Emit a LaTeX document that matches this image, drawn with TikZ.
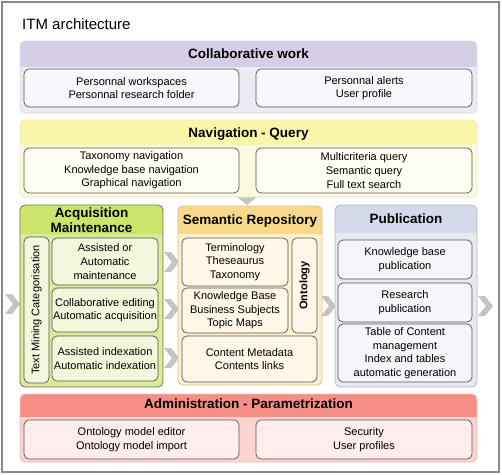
\documentclass[tikz,border=0pt]{standalone}
\usepackage{fontspec}
\setmainfont{Liberation Sans}
\definecolor{framegray}{HTML}{8A8A8A}
\definecolor{chevgray}{HTML}{C4C4C4}
\definecolor{boxline}{HTML}{555555}
\definecolor{collabH}{HTML}{D6CEE6}
\definecolor{collabB}{HTML}{ECEAF4}
\definecolor{collabI}{HTML}{F6F6FB}
\definecolor{collabL}{HTML}{DCDAE6}
\definecolor{navH}{HTML}{F9F6AA}
\definecolor{navB}{HTML}{FBFAE0}
\definecolor{navI}{HTML}{FFFEF3}
\definecolor{navL}{HTML}{ECE9C0}
\definecolor{acqH}{HTML}{CCE46C}
\definecolor{acqB}{HTML}{D9EB9A}
\definecolor{acqI}{HTML}{F2F8DC}
\definecolor{acqL}{HTML}{6E7450}
\definecolor{semH}{HTML}{F9DA8C}
\definecolor{semB}{HTML}{FDF0CD}
\definecolor{semI}{HTML}{FFF8E8}
\definecolor{semL}{HTML}{D9C28A}
\definecolor{pubH}{HTML}{D4DAEA}
\definecolor{pubB}{HTML}{E6E9F1}
\definecolor{pubI}{HTML}{F5F6FA}
\definecolor{pubL}{HTML}{B8BCC8}
\definecolor{admH}{HTML}{F58E84}
\definecolor{admB}{HTML}{FCD3D0}
\definecolor{admI}{HTML}{FDEDEC}
\definecolor{admL}{HTML}{F0C0BC}
\newcommand\itmpanel[8]{%
  \fill[#7, rounded corners=5pt] (#1,#2) rectangle (#3,#4);
  \begin{scope}
    \clip[rounded corners=5pt] (#1,#2) rectangle (#3,#4);
    \fill[#6] (#1,#2) rectangle (#3,#5);
  \end{scope}
  \draw[#8, line width=0.8pt, rounded corners=5pt] (#1,#2) rectangle (#3,#4);}
\newcommand\itmchevR[2]{%
  \fill[chevgray] (#1,#2-10) -- ++(7,0) -- ++(8,10) -- ++(-8,10) -- ++(-7,0) -- ++(8,-10) -- cycle;}
\newcommand\itmchevD[2]{%
  \fill[chevgray] (#1-10,#2) -- ++(0,7) -- ++(10,8) -- ++(10,-8) -- ++(0,-7) -- ++(-10,8) -- cycle;}
\begin{document}
\begin{tikzpicture}[x=1pt,y=-1pt,
  txt/.style={font=\fontsize{11}{13.6}\selectfont, align=center, text=black},
  ibox/.style={draw=boxline, line width=0.7pt, rounded corners=5pt, inner sep=0pt, txt},
  hdr/.style={font=\fontsize{13.5}{15}\selectfont\bfseries, align=center, inner sep=0pt}]
\useasboundingbox (0,0) rectangle (502,474);
\draw[framegray, line width=1.5pt, fill=white] (2,2) rectangle (499,472);
\node[anchor=base west, font=\fontsize{15}{18}\selectfont, inner sep=0pt] (title) at (22,29) {ITM architecture};

% chevrons (behind panels)
\itmchevR{5}{304}
\itmchevR{164}{262}
\itmchevR{164}{309}
\itmchevR{164}{358}
\itmchevR{321}{306}
\itmchevR{478}{306}
\itmchevD{247}{190}

% Collaborative work
\itmpanel{20}{41}{477}{113}{67}{collabH}{collabB}{collabL}
\node[hdr, anchor=base] (collabh) at (248.5,58.5) {Collaborative work};
\node[ibox, fill=collabI, minimum width=215pt, minimum height=38pt] (cwl) at (131.5,88) {Personnal workspaces\\Personnal research folder};
\node[ibox, fill=collabI, minimum width=216pt, minimum height=38pt] (cwr) at (364,88) {Personnal alerts\\User profile};

% Navigation - Query
\itmpanel{20}{120}{477}{197}{145}{navH}{navB}{navL}
\node[hdr, anchor=base] (navh) at (248.5,137.5) {Navigation - Query};
\node[ibox, fill=navI, minimum width=215pt, minimum height=45pt] (nql) at (131.5,170.5) {Taxonomy navigation\\Knowledge base navigation\\Graphical navigation};
\node[ibox, fill=navI, minimum width=216pt, minimum height=45pt] (nqr) at (364,170.5) {Multicriteria query\\Semantic query\\Full text search};

% Acquisition Maintenance
\itmpanel{20}{205}{163}{387}{234}{acqH}{acqB}{acqL}
\node[hdr] (acqh) at (91.5,220) {Acquisition\\Maintenance};
\node[ibox, fill=acqI, rotate=90, minimum width=146pt, minimum height=25pt] (tmc) at (36.5,310) {Text Mining Categorisation};
\node[ibox, fill=acqI, minimum width=106pt, minimum height=47pt] (am1) at (105,261.5) {Assisted or\\Automatic\\maintenance};
\node[ibox, fill=acqI, minimum width=106pt, minimum height=44pt] (am2) at (105,310) {Collaborative editing\\Automatic acquisition};
\node[ibox, fill=acqI, minimum width=106pt, minimum height=45pt] (am3) at (105,358.5) {Assisted indexation\\Automatic indexation};

% Semantic Repository
\itmpanel{178}{206}{322}{385}{234}{semH}{semB}{semL}
\node[hdr, anchor=base] (semh) at (250,224.5) {Semantic Repository};
\node[ibox, fill=semI, minimum width=106pt, minimum height=48pt] (sr1) at (235,262) {Terminology\\Theseaurus\\Taxonomy};
\node[ibox, fill=semI, minimum width=106pt, minimum height=45pt] (sr2) at (235,310.5) {Knowledge Base\\Business Subjects\\Topic Maps};
\node[ibox, fill=semI, rotate=90, minimum width=95pt, minimum height=25pt, font=\fontsize{11}{13.6}\selectfont\bfseries] (onto) at (304.5,285.5) {Ontology};
\node[ibox, fill=semI, minimum width=135pt, minimum height=46pt] (sr3) at (249.5,359) {Content Metadata\\Contents links};

% Publication
\itmpanel{335}{205}{477}{387}{233}{pubH}{pubB}{pubL}
\node[hdr, anchor=base] (pubh) at (406,223) {Publication};
\node[ibox, fill=pubI, minimum width=134pt, minimum height=39pt] (pb1) at (405,259.5) {Knowledge base\\publication};
\node[ibox, fill=pubI, minimum width=134pt, minimum height=39pt] (pb2) at (405,302.5) {Research\\publication};
\node[ibox, fill=pubI, minimum width=134pt, minimum height=58pt] (pb3) at (405,353) {Table of Content\\management\\Index and tables\\automatic generation};

% Administration - Parametrization
\itmpanel{20}{394}{477}{462}{417}{admH}{admB}{admL}
\node[hdr, anchor=base] (admh) at (248.5,408.5) {Administration - Parametrization};
\node[ibox, fill=admI, minimum width=215pt, minimum height=39pt] (adl) at (131.5,439.5) {Ontology model editor\\Ontology model import};
\node[ibox, fill=admI, minimum width=216pt, minimum height=39pt] (adr) at (364,439.5) {Security\\User profiles};
\end{tikzpicture}
\end{document}
